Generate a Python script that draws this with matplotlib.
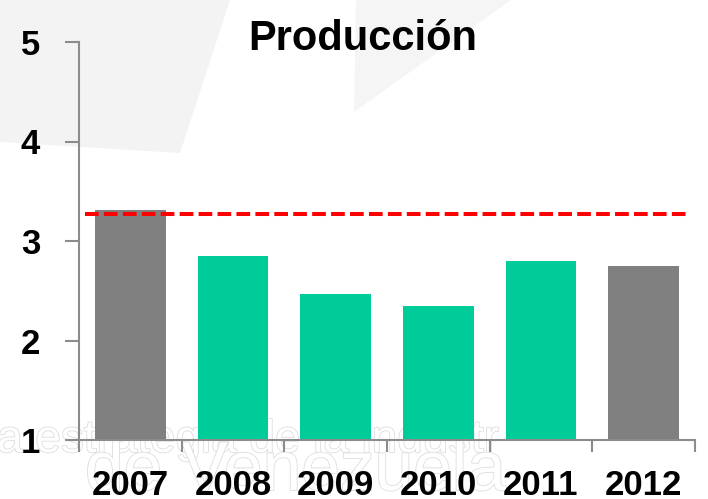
import matplotlib
matplotlib.use("Agg")
import matplotlib.pyplot as plt
import matplotlib.patheffects as pe
from matplotlib.patches import Polygon

# datos
years = ["2007", "2008", "2009", "2010", "2011", "2012"]
values = [3.31, 2.85, 2.47, 2.35, 2.80, 2.75]
bar_colors = ["#808080", "#00CC99", "#00CC99", "#00CC99", "#00CC99", "#808080"]
target = 3.27
yticks = [1, 2, 3, 4, 5]

plt.rcParams["font.family"] = ["Liberation Sans", "DejaVu Sans"]

W, H = 708, 499
fig = plt.figure(figsize=(W / 100, H / 100), dpi=100)
fig.patch.set_facecolor("white")

# fondo: formas grises claras (marca de agua)
def px(pts):
    return [(x / W, 1 - y / H) for x, y in pts]

fig.patches.append(Polygon(px([(0, 0), (230, 0), (180, 153), (0, 142)]),
                           closed=True, transform=fig.transFigure,
                           facecolor="#f3f3f3", edgecolor="none", zorder=0))
fig.patches.append(Polygon(px([(356, 0), (511, 0), (354, 112)]),
                           closed=True, transform=fig.transFigure,
                           facecolor="#f5f5f5", edgecolor="none", zorder=0))

wm = dict(color="white", zorder=0.5, va="baseline",
          path_effects=[pe.withStroke(linewidth=1.2, foreground="#dddddd")])
fig.text(-0.004, 1 - 452 / H, "a estrategia de la industr", fontsize=33, **wm)
fig.text(85 / W, 1 - 490 / H, "de Venezuela", fontsize=50, **wm)

ax = fig.add_axes([79 / W, 1 - 440 / H, 616 / W, 398 / H], zorder=1)
ax.patch.set_visible(False)

x = list(range(len(years)))
ax.bar(x, [v - 1 for v in values], bottom=1, width=0.69, color=bar_colors, zorder=2)
ax.axhline(target, xmin=0.01, xmax=0.99, color="#FF0000", lw=2.9,
           linestyle=(0, (3.4, 1.3)), zorder=3)

ax.set_xlim(-0.5, len(years) - 0.5)
ax.set_ylim(1, 5)

for s in ["top", "right"]:
    ax.spines[s].set_visible(False)
for s in ["left", "bottom"]:
    ax.spines[s].set_color("#8c8c8c")
    ax.spines[s].set_linewidth(1.5)

ax.set_yticks(yticks)
ax.set_yticklabels([str(t) for t in yticks], fontsize=25, fontweight="bold")
ax.tick_params(axis="y", length=10, width=1.5, color="#8c8c8c", pad=18)

ax.set_xticks(x)
ax.set_xticklabels(years, fontsize=25, fontweight="bold")
ax.set_xticks([i - 0.5 for i in range(len(years) + 1)], minor=True)
ax.tick_params(axis="x", which="major", length=0, pad=21)
ax.tick_params(axis="x", which="minor", length=8.5, width=1.5, color="#8c8c8c")

fig.text(363 / W, 1 - 50 / H, "Producción", ha="center", va="baseline",
         fontsize=30, fontweight="bold", zorder=2)

fig.savefig("out.png", dpi=100)
